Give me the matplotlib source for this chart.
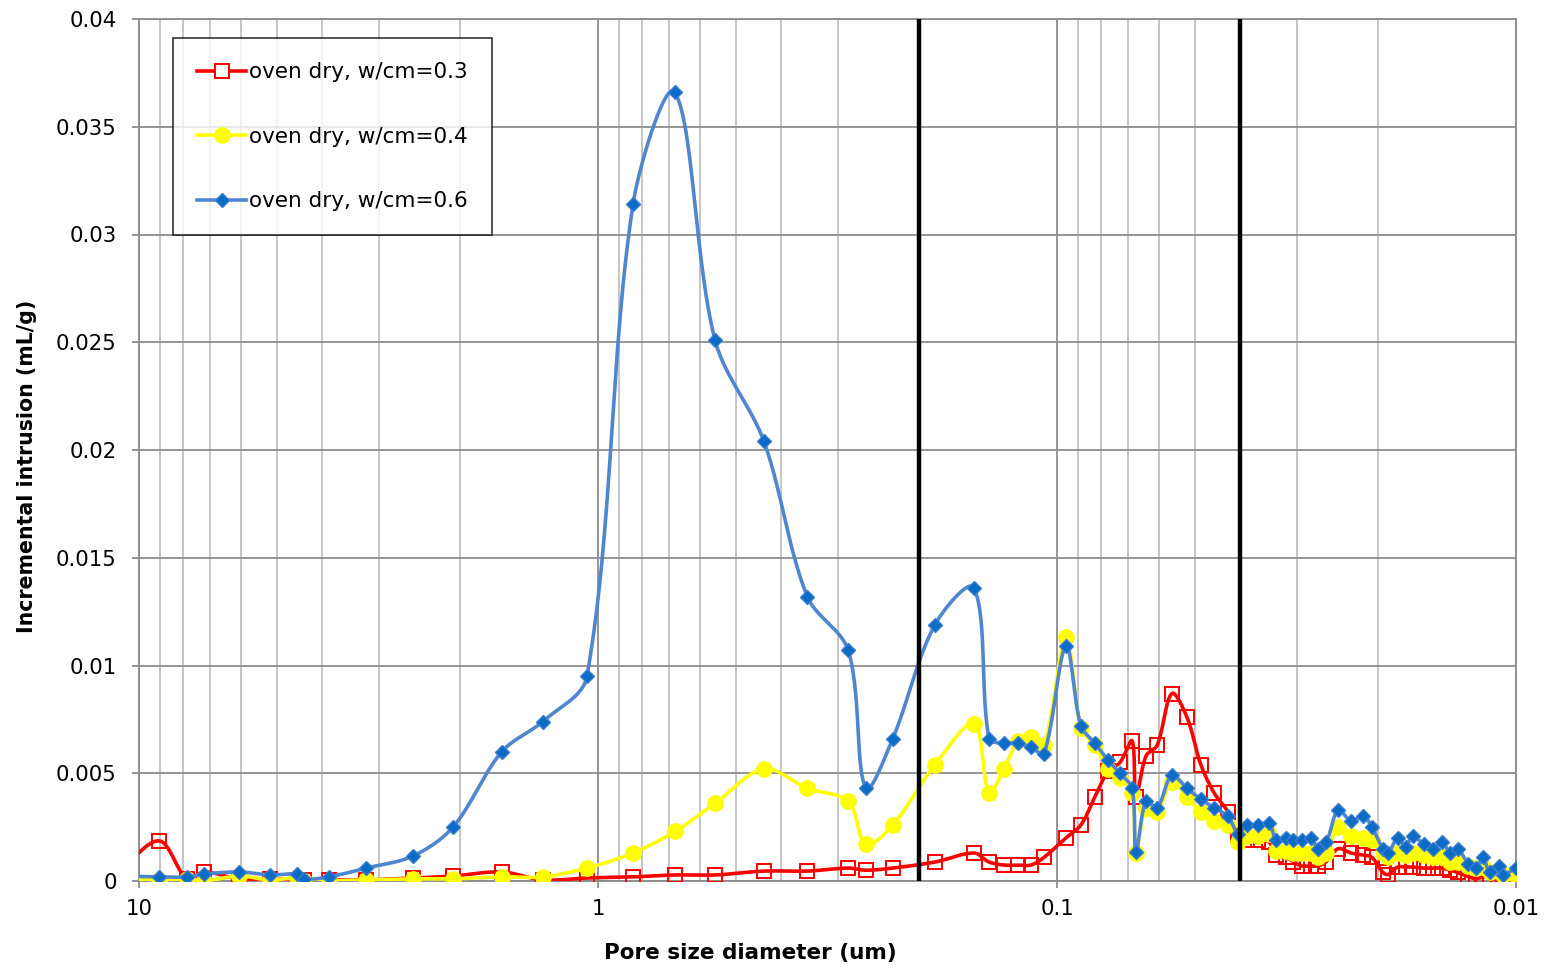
import numpy as np
import matplotlib
matplotlib.use("Agg")
import matplotlib.pyplot as plt
from matplotlib.lines import Line2D
from matplotlib.ticker import NullFormatter, LogLocator

# ---------------- data ----------------
pore_diameter_um = [
    11.11, 9.04, 7.86, 7.22, 6.06, 5.18, 4.53, 4.37, 3.86, 3.20,
    2.53, 2.07, 1.62, 1.32, 1.057, 0.839, 0.680, 0.556, 0.435, 0.350,
    0.285, 0.261, 0.228, 0.1844, 0.1517, 0.1406, 0.1305, 0.1216, 0.1139, 0.1067,
    0.0956, 0.0887, 0.0827, 0.0774, 0.0729, 0.0686, 0.0673, 0.0640, 0.0605, 0.0562,
    0.0521, 0.0486, 0.0455, 0.0424, 0.0403, 0.0386, 0.0365, 0.0345, 0.0333, 0.0317,
    0.0306, 0.0293, 0.0280, 0.0270, 0.0259, 0.0244, 0.0229, 0.0215, 0.0206, 0.0195,
    0.0190, 0.0181, 0.0174, 0.0168, 0.0159, 0.0152, 0.0145, 0.0139, 0.0134, 0.0127,
    0.0122, 0.0118, 0.0114, 0.0109, 0.0107, 0.0100,
]

intrusion_wcm03 = [
    0.00037, 0.00186, 0.0001, 0.00042, 0.0001, 0.0001, 0.00005, 0.00005, 0.00005, 0.00005,
    0.00014, 0.00023, 0.00042, 0.00005, 0.00014, 0.00019, 0.00028, 0.00028, 0.00046, 0.00046,
    0.0006, 0.0005, 0.0006, 0.00088, 0.0013, 0.00088, 0.00074, 0.00074, 0.00074, 0.0011,
    0.0020, 0.0026, 0.0039, 0.0051, 0.0055, 0.0065, 0.0039, 0.0058, 0.0063, 0.0087,
    0.0076, 0.0054, 0.0041, 0.0032, 0.0021, 0.0019, 0.0019, 0.0018, 0.0012, 0.0011,
    0.0009, 0.0007, 0.0007, 0.0007, 0.0009, 0.0015, 0.0013, 0.0012, 0.0011, 0.0004,
    0.0003, 0.00065, 0.00065, 0.00065, 0.0006, 0.0006, 0.0006, 0.0005, 0.0004, 0.0002,
    0.0001, 0.0002, 0.0001, 0.0001, 0.00005, 0.0001,
]

intrusion_wcm04 = [
    0.0001, 0.00005, 0.0001, 0.0, 0.00023, 0.00005, 0.00014, 0.0, 0.0, 0.00005,
    0.0001, 0.0001, 0.00019, 0.00019, 0.0006, 0.0013, 0.0023, 0.0036, 0.0052, 0.0043,
    0.0037, 0.0017, 0.0026, 0.0054, 0.0073, 0.0041, 0.0052, 0.0065, 0.0067, 0.0063,
    0.0113, 0.0071, 0.0063, 0.0052, 0.0048, 0.0041, 0.0013, 0.0034, 0.0032, 0.0046,
    0.0039, 0.0032, 0.0028, 0.0026, 0.0018, 0.0021, 0.0021, 0.0022, 0.0014, 0.0014,
    0.0013, 0.0013, 0.0013, 0.0011, 0.0013, 0.0025, 0.0021, 0.0020, 0.0019, 0.0013,
    0.0011, 0.0013, 0.0012, 0.0013, 0.0012, 0.0011, 0.0011, 0.0009, 0.0009, 0.0007,
    0.0006, 0.00065, 0.0004, 0.0005, 0.0003, 0.0003,
]

intrusion_wcm06 = [
    0.00023, 0.00019, 0.00019, 0.00032, 0.00042, 0.00028, 0.00032, 0.00009, 0.00019, 0.0006,
    0.00116, 0.0025, 0.0060, 0.0074, 0.0095, 0.0314, 0.0366, 0.0251, 0.0204, 0.0132,
    0.0107, 0.0043, 0.0066, 0.0119, 0.0136, 0.0066, 0.0064, 0.0064, 0.0062, 0.0059,
    0.0109, 0.0072, 0.0064, 0.0056, 0.0050, 0.0043, 0.00135, 0.0037, 0.0034, 0.0049,
    0.0043, 0.0038, 0.0034, 0.0030, 0.0022, 0.0026, 0.0026, 0.0027, 0.0019, 0.0020,
    0.0019, 0.0019, 0.0020, 0.0015, 0.0018, 0.0033, 0.0028, 0.0030, 0.0025, 0.0015,
    0.0013, 0.0020, 0.0016, 0.0021, 0.0017, 0.0015, 0.0018, 0.0013, 0.0015, 0.0008,
    0.0006, 0.0011, 0.0004, 0.0007, 0.0003, 0.0006,
]

series_labels = ["oven dry, w/cm=0.3", "oven dry, w/cm=0.4", "oven dry, w/cm=0.6"]
boundary_diameters = [0.2, 0.04]
x_ticks = [10, 1, 0.1, 0.01]
x_tick_labels = ["10", "1", "0.1", "0.01"]
y_ticks = [0, 0.005, 0.01, 0.015, 0.02, 0.025, 0.03, 0.035, 0.04]
y_tick_labels = ["0", "0.005", "0.01", "0.015", "0.02", "0.025", "0.03", "0.035", "0.04"]

# ---------------- figure ----------------
W, H = 1553, 969
fig = plt.figure(figsize=(W / 100, H / 100), dpi=100)
ax = fig.add_axes([139 / W, (H - 881) / H, (1516 - 139) / W, (881 - 19) / H])
ax.set_xscale("log")
ax.set_xlim(10, 0.01)
ax.set_ylim(0, 0.04)

# grid
ax.set_xticks(x_ticks)
ax.set_xticklabels(x_tick_labels)
ax.xaxis.set_minor_locator(LogLocator(base=10, subs=np.arange(2, 10)))
ax.xaxis.set_minor_formatter(NullFormatter())
ax.set_yticks(y_ticks)
ax.set_yticklabels(y_tick_labels)
ax.grid(which="major", axis="both", color="#8c8c8c", linewidth=1.3, zorder=0)
ax.grid(which="minor", axis="x", color="#c0c0c0", linewidth=1.3, zorder=0)
ax.set_axisbelow(True)
for s in ax.spines.values():
    s.set_color("#8c8c8c")
    s.set_linewidth(1.3)
ax.tick_params(axis="both", which="major", length=5, width=1.3, color="#8c8c8c",
               labelsize=15.3, labelcolor="black", direction="out")
ax.tick_params(axis="x", which="minor", length=0)
ax.tick_params(axis="x", pad=8)
ax.tick_params(axis="y", pad=11)

ax.set_xlabel("Pore size diameter (um)", fontsize=15.5, fontweight="bold")
ax.set_ylabel("Incremental intrusion (mL/g)", fontsize=14.8, fontweight="bold")
ax.xaxis.set_label_coords((750 - 139) / (1516 - 139), (881 - 943) / (881 - 19))
ax.yaxis.set_label_coords((37 - 139) / (1516 - 139), (881 - 466) / (881 - 19))


def smooth_curve(xd, yd, n=30):
    """Bezier smoothing in display space with chord-length weighted tangents."""
    pts = ax.transData.transform(np.column_stack([xd, yd]))
    out = []
    m = len(pts)
    t = np.linspace(0, 1, n)[:, None]
    for i in range(m - 1):
        p0 = pts[i - 1] if i > 0 else pts[i]
        p1 = pts[i]
        p2 = pts[i + 1]
        p3 = pts[i + 2] if i + 2 < m else pts[i + 1]
        d01 = np.hypot(*(p1 - p0))
        d12 = np.hypot(*(p2 - p1))
        d23 = np.hypot(*(p3 - p2))
        f1 = d12 / (3.0 * (d01 + d12)) if (d01 + d12) > 0 else 0
        f2 = d12 / (3.0 * (d12 + d23)) if (d12 + d23) > 0 else 0
        c1 = p1 + (p2 - p0) * f1
        c2 = p2 - (p3 - p1) * f2
        seg = ((1 - t) ** 3) * p1 + 3 * ((1 - t) ** 2) * t * c1 + 3 * (1 - t) * t ** 2 * c2 + t ** 3 * p2
        out.append(seg if i == 0 else seg[1:])
    out = np.vstack(out)
    d = ax.transData.inverted().transform(out)
    return d[:, 0], d[:, 1]


styles = [
    dict(color="#ff0000", marker="s", ms=10, mfc="none", mec="#ff0000", mew=1.4),
    dict(color="#ffff00", marker="o", ms=11, mfc="#ffff00", mec="#ffff00", mew=1.0),
    dict(color="#4f86d0", marker="D", ms=7.5, mfc="#0a6cc4", mec="#3a7cd0", mew=1.0),
]
series = [intrusion_wcm03, intrusion_wcm04, intrusion_wcm06]
x = np.array(pore_diameter_um)
handles = []
for k, (yv, st, lab) in enumerate(zip(series, styles, series_labels)):
    yv = np.array(yv)
    sx, sy = smooth_curve(x, yv)
    ax.plot(sx, sy, color=st["color"], lw=2.6, zorder=3 + k, solid_capstyle="round")
    ax.plot(x, yv, ls="none", marker=st["marker"], ms=st["ms"], mfc=st["mfc"],
            mec=st["mec"], mew=st["mew"], zorder=3 + k + 0.5, clip_on=True)
    handles.append(Line2D([], [], color=st["color"], lw=2.6, marker=st["marker"],
                          ms=st["ms"], mfc=("white" if st["mfc"] == "none" else st["mfc"]),
                          mec=st["mec"], mew=st["mew"]))

for b in boundary_diameters:
    ax.axvline(b, color="black", lw=3.2, zorder=10)

leg = ax.legend(handles, series_labels, loc="upper left",
                bbox_to_anchor=((173 - 139) / (1516 - 139), (881 - 38) / (881 - 19)),
                fontsize=15.5, frameon=True, fancybox=False, borderpad=1.12,
                labelspacing=2.07, handlelength=2.27,
                handletextpad=0.15, borderaxespad=0)
leg.get_frame().set_edgecolor("black")
leg.get_frame().set_linewidth(1.2)
leg.set_zorder(20)

fig.savefig("out.png", dpi=100)
